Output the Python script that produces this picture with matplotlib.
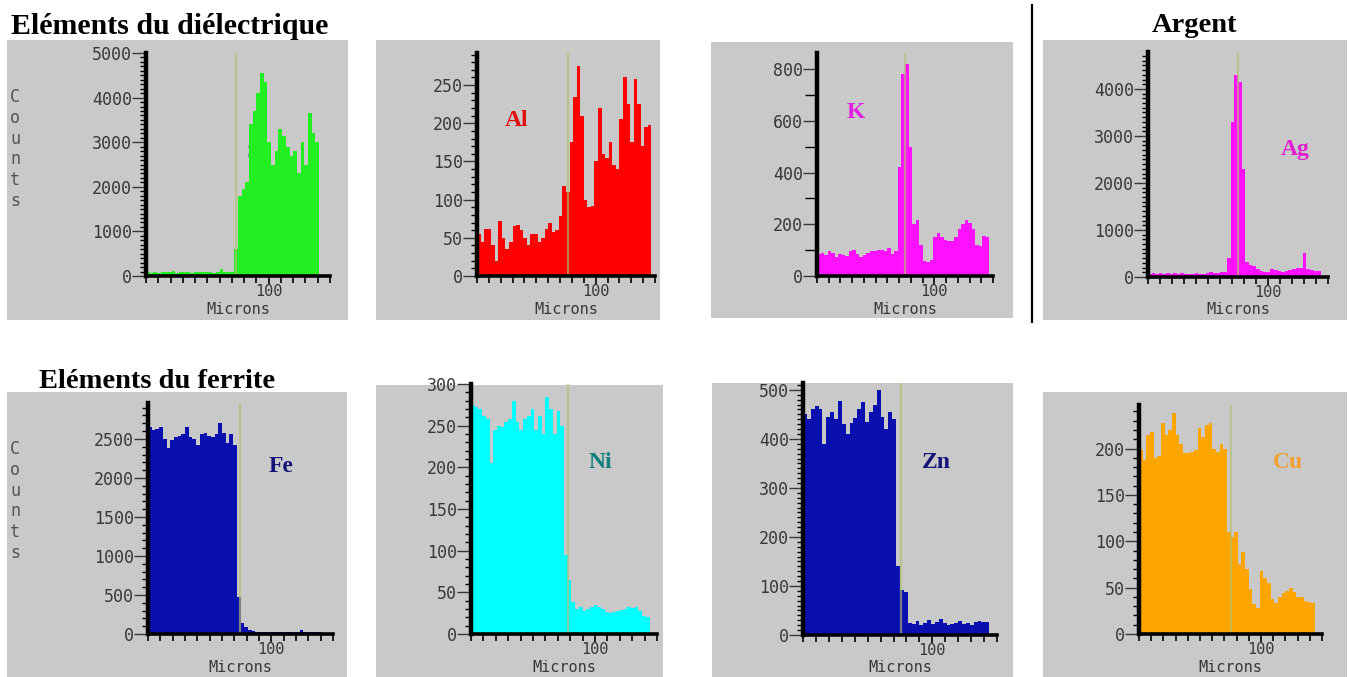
import numpy as np
import matplotlib

matplotlib.use("Agg")
import matplotlib.pyplot as plt
from matplotlib.patches import Rectangle
from matplotlib.ticker import FixedLocator, MultipleLocator

W, H = 1349, 677
STEP = 3.0  # microns per profile sample
X_MAX = 150.0

# line-scan counts, one value per 3 micron step
si_counts = [80, 60, 90, 70, 100, 80, 90, 110, 70, 90, 80, 100, 70, 90, 80, 100,
             90, 80, 70, 90, 150, 90, 80, 90,
             600, 1800, 1950, 2100, 3400, 3700, 4100, 4550, 4350, 3000, 2500, 2800,
             3300, 3150, 2900, 2700, 2800, 2300, 3000, 2500, 3650, 3200, 3000]
al_counts = [55, 45, 62, 62, 40, 20, 72, 50, 35, 45, 65, 67, 60, 50, 40, 55,
             55, 45, 50, 62, 70, 58, 60, 78, 118, 110, 175, 235, 275, 210, 100, 90,
             92, 150, 220, 160, 155, 175, 145, 140, 205, 260, 225, 175, 258, 225, 170,
             195, 198]
k_counts = [85, 90, 80, 95, 88, 72, 85, 82, 78, 95, 100, 85, 72, 80, 90, 95,
            98, 100, 102, 95, 108, 85, 95, 420, 780, 820, 500, 200, 215, 120, 58, 55,
            60, 150, 168, 150, 138, 135, 135, 150, 180, 200, 215, 205, 180, 120, 115,
            155, 150]
ag_counts = [70, 75, 60, 80, 70, 85, 65, 75, 70, 80, 70, 65, 70, 75, 65, 70,
             80, 100, 75, 90, 110, 100, 400, 3300, 4300, 4150, 2300, 320, 250, 230, 160,
             120, 100, 110, 160, 140, 120, 110, 120, 150, 180, 200, 190, 500, 160, 150,
             120, 130]
fe_counts = [2650, 2620, 2630, 2650, 2500, 2380, 2480, 2520, 2540, 2560, 2650, 2520,
             2500, 2420, 2560, 2570, 2540, 2520, 2560, 2700, 2580, 2450, 2560, 2420,
             480, 140, 90, 50, 40, 30, 25, 28, 22, 25, 30, 26, 24, 28, 25, 30, 27, 45,
             30, 26, 25, 28, 22]
ni_counts = [275, 272, 270, 262, 258, 205, 245, 250, 248, 255, 258, 280, 255, 245,
             258, 262, 270, 245, 262, 240, 285, 270, 240, 268, 250, 95, 65, 38, 30, 32,
             28, 30, 32, 35, 33, 30, 26, 25, 27, 28, 29, 30, 32, 31, 32, 28, 22, 20]
zn_counts = [450, 440, 460, 468, 460, 390, 445, 455, 440, 478, 430, 410, 432, 442,
             460, 475, 435, 455, 470, 500, 445, 420, 455, 440, 140, 92, 88, 25, 22, 28,
             20, 25, 30, 22, 26, 32, 24, 20, 22, 25, 28, 22, 24, 20, 26, 28, 27, 26]
cu_counts = [198, 188, 215, 218, 190, 192, 228, 215, 220, 238, 215, 205, 195, 195,
             196, 198, 222, 212, 225, 228, 200, 196, 205, 200, 110, 105, 110, 75, 88,
             70, 48, 32, 28, 68, 60, 55, 38, 33, 40, 44, 46, 50, 45, 40, 40, 36, 34, 33]

elements = ["Si", "Al", "K", "Ag", "Fe", "Ni", "Zn", "Cu"]
profiles = [si_counts, al_counts, k_counts, ag_counts, fe_counts, ni_counts, zn_counts, cu_counts]
interfaces = [73, 77, 75, 75, 74.5, 78, 76, 75]  # microns
y_max = [5000, 292, 862, 4787, 2960, 300, 514, 247]
y_major = [1000, 50, 200, 1000, 500, 50, 100, 50]
y_minor = [100, 10, 100, 100, 100, 10, 10, 10]

fill_colors = ["#22ee22", "#ff0000", "#ff10ff", "#ff10ff", "#0a0fb0", "#00ffff", "#0a0fb0", "#ffa500"]
label_colors = ["#2e9a6a", "#e01010", "#e020e0", "#e020d0", "#141478", "#0f7f7f", "#141478", "#f0a030"]

# layout in pixels: grey box (x0, y0, x1, y1), axes (left, top, right, zero), label centre
grey_boxes = [(7, 40, 348, 320), (376, 40, 660, 320), (711, 42, 1013, 318), (1043, 40, 1347, 320),
              (7, 392, 347, 677), (376, 385, 663, 677), (712, 383, 1013, 677), (1043, 392, 1347, 677)]
axes_boxes = [(146, 53, 330, 276), (477, 53, 655, 276), (817, 53, 993, 276), (1148, 52, 1328, 277),
              (148, 403, 333, 634), (471, 384, 657, 634), (803, 383, 997, 635), (1139, 405, 1322, 634)]
label_pos = [(257, 153), (517, 120), (856, 112), (1295, 150),
             (281, 467), (600, 463), (936, 463), (1288, 463)]

MONO = "DejaVu Sans Mono"
SERIF = "Liberation Serif"
TICK_COLOR = "#383838"

fig = plt.figure(figsize=(W / 100, H / 100), dpi=100)
bg = fig.add_axes([0, 0, 1, 1])
bg.set_xlim(0, W)
bg.set_ylim(H, 0)
bg.axis("off")

for x0, y0, x1, y1 in grey_boxes:
    bg.add_patch(Rectangle((x0, y0), x1 - x0, y1 - y0, facecolor="#c9c9c9", edgecolor="none"))

bg.text(170, 26, "Eléments du diélectrique", family=SERIF, weight="bold", fontsize=21.5,
        ha="center", va="center", color="black")
bg.text(1194, 26, "Argent", family=SERIF, weight="bold", fontsize=20.5,
        ha="center", va="center", color="black")
bg.text(157, 382, "Eléments du ferrite", family=SERIF, weight="bold", fontsize=20.5,
        ha="center", va="center", color="black")
bg.plot([1032, 1032], [5, 322], color="black", lw=1.6)

for y_top in (88, 440):
    bg.text(15, y_top, "C\no\nu\nn\nt\ns", family=MONO, fontsize=12, color="#555555",
            ha="center", va="top", linespacing=1.2)

for i, counts in enumerate(profiles):
    left, top, right, zero = axes_boxes[i]
    ax = fig.add_axes([left / W, 1 - zero / H, (right - left) / W, (zero - top) / H])
    ax.patch.set_alpha(0)
    ax.set_xlim(0, X_MAX)
    ax.set_ylim(0, y_max[i])

    edges = np.arange(len(counts) + 1) * STEP
    ax.stairs(counts, edges, fill=True, color=fill_colors[i], lw=0)
    ax.axvline(interfaces[i], color="#b2c070", lw=1.6, alpha=0.65, zorder=3)

    for side in ("top", "right"):
        ax.spines[side].set_visible(False)
    ax.spines["left"].set_linewidth(3.2)
    ax.spines["bottom"].set_linewidth(2.6)
    ax.spines["left"].set_zorder(4)
    ax.spines["bottom"].set_zorder(4)

    ax.yaxis.set_major_locator(MultipleLocator(y_major[i]))
    ax.yaxis.set_minor_locator(MultipleLocator(y_minor[i]))
    ax.xaxis.set_major_locator(FixedLocator([100]))
    ax.xaxis.set_minor_locator(MultipleLocator(10))
    long_minor = y_major[i] == 2 * y_minor[i]
    ax.tick_params(axis="y", which="major", length=10, width=1, color=TICK_COLOR,
                   labelsize=12, labelcolor=TICK_COLOR, pad=0)
    ax.tick_params(axis="y", which="minor", length=9 if long_minor else 4,
                   width=1, color="black")
    ax.tick_params(axis="x", which="major", length=6, width=1.2, color="black",
                   labelsize=11, labelcolor=TICK_COLOR, pad=0)
    ax.tick_params(axis="x", which="minor", length=5, width=1.2, color="black")
    for lbl in ax.get_xticklabels() + ax.get_yticklabels():
        lbl.set_family(MONO)

    # "Microns" centred about 33 px under the zero line
    label_y = zero + 33
    ax.set_xlabel("Microns", family=MONO, fontsize=11, color=TICK_COLOR)
    ax.xaxis.label.set_va("center")
    ax.xaxis.set_label_coords(0.5, -(label_y - zero) / (zero - top))

    lx, ly = label_pos[i]
    bg.text(lx, ly, elements[i], family=SERIF, weight="bold", fontsize=17,
            color=label_colors[i], ha="center", va="center", zorder=5)

fig.savefig("out.png", dpi=100)
